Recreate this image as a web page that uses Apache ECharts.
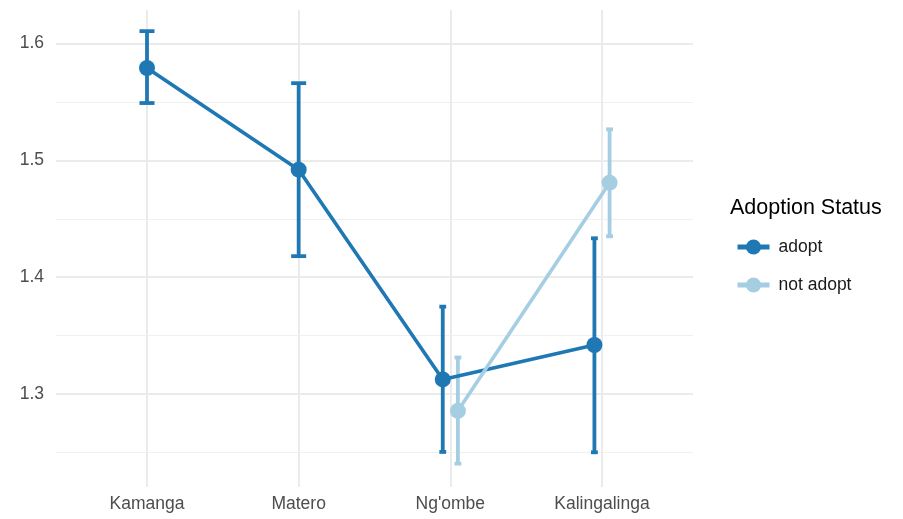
<!DOCTYPE html>
<html>
<head>
<meta charset="utf-8">
<script src="https://cdn.jsdelivr.net/npm/echarts@6/dist/echarts.min.js"></script>
<style>
  html, body { margin: 0; padding: 0; background: #ffffff; }
  #chart { width: 903px; height: 519px; }
</style>
</head>
<body>
<div id="chart"></div>
<script>
// Mean score by district and adoption status, with error bar limits
var categories = ["Kamanga", "Matero", "Ng'ombe", "Kalingalinga"];
var groups = ["adopt", "not adopt"];

var adoptMean = [1.579, 1.492, 1.3125, 1.342];
var adoptLow  = [1.549, 1.418, 1.2505, 1.2502];
var adoptHigh = [1.6105, 1.566, 1.3748, 1.4333];

var notAdoptMean = [null, null, 1.2857, 1.4809];
var notAdoptLow  = [null, null, 1.2405, 1.435];
var notAdoptHigh = [null, null, 1.3313, 1.5265];

var yMajorTicks = [1.3, 1.4, 1.5, 1.6];
var yMinorTicks = [1.25, 1.35, 1.45, 1.55];

var colors = { "adopt": "#1F78B4", "not adopt": "#A6CEE3" };
var dodge = 0.05;
var FONT = 'Liberation Sans, Arial, Helvetica, sans-serif';

var means = [adoptMean, notAdoptMean];
var lows = [adoptLow, notAdoptLow];
var highs = [adoptHigh, notAdoptHigh];

// how many groups are present at each category (dodging only when both are)
var present = categories.map(function (c, i) {
  return means.filter(function (m) { return m[i] != null; }).length;
});

function xPos(groupIdx, catIdx) {
  var base = catIdx + 1;
  if (present[catIdx] < 2) return base;
  return base + (groupIdx === 0 ? -dodge : dodge);
}

var lineSeries = [], barSeries = [];
groups.forEach(function (g, gi) {
  var pts = [], bars = [];
  categories.forEach(function (c, ci) {
    if (means[gi][ci] == null) return;
    var x = xPos(gi, ci);
    pts.push([x, means[gi][ci]]);
    bars.push([x, lows[gi][ci], highs[gi][ci], present[ci]]);
  });
  lineSeries.push({
    name: g,
    type: 'line',
    z: 3 + gi,
    data: pts,
    symbol: 'circle',
    symbolSize: 16,
    showSymbol: true,
    lineStyle: { color: colors[g], width: 3.6 },
    itemStyle: { color: colors[g] },
    emphasis: { disabled: true }
  });
  // error bars: vertical segment with a cap at each end
  barSeries.push({
    name: g,
    type: 'custom',
    z: 1,
    silent: true,
    data: bars,
    encode: { x: 0, y: [1, 2] },
    renderItem: function (params, api) {
      var x = api.value(0);
      var lo = api.coord([x, api.value(1)]);
      var hi = api.coord([x, api.value(2)]);
      var half = api.value(3) > 1 ? 3.4 : 7.5;
      var st = { stroke: colors[g], lineWidth: 3.8, fill: null };
      return {
        type: 'group',
        children: [
          { type: 'line', shape: { x1: lo[0], y1: lo[1], x2: hi[0], y2: hi[1] }, style: st },
          { type: 'line', shape: { x1: lo[0] - half, y1: lo[1], x2: lo[0] + half, y2: lo[1] }, style: st },
          { type: 'line', shape: { x1: hi[0] - half, y1: hi[1], x2: hi[0] + half, y2: hi[1] }, style: st }
        ]
      };
    }
  });
});

var chart = echarts.init(document.getElementById('chart'));
chart.setOption({
  animation: false,
  backgroundColor: '#ffffff',
  color: [colors['adopt'], colors['not adopt']],
  grid: { left: 56, right: 210, top: 10, bottom: 32, containLabel: false },
  title: {
    text: 'Adoption Status',
    left: 725,
    top: 192,
    textStyle: { fontFamily: FONT, fontSize: 21.5, fontWeight: 'normal', color: '#000000' }
  },
  legend: {
    data: groups,
    orient: 'vertical',
    left: 730,
    top: 233,
    itemWidth: 32,
    itemHeight: 19,
    itemGap: 20,
    selectedMode: false,
    lineStyle: { width: 5 },
    textStyle: { fontFamily: FONT, fontSize: 17.5, color: '#1a1a1a', padding: [0, 0, 0, 4] }
  },
  xAxis: {
    type: 'value',
    min: 0.4,
    max: 4.6,
    axisLine: { show: false },
    axisTick: { show: false, customValues: [1, 2, 3, 4] },
    splitLine: { show: true, lineStyle: { color: '#EBEBEB', width: 2 } },
    axisLabel: {
      customValues: [1, 2, 3, 4],
      formatter: function (v) { return categories[Math.round(v) - 1]; },
      fontFamily: FONT,
      fontSize: 17.5,
      color: '#4D4D4D',
      margin: 8
    }
  },
  yAxis: [{
    type: 'value',
    min: 1.2205,
    max: 1.6286,
    axisLine: { show: false },
    axisTick: { show: false, customValues: yMajorTicks },
    splitLine: { show: true, lineStyle: { color: '#EBEBEB', width: 2 } },
    axisLabel: {
      customValues: yMajorTicks,
      formatter: function (v) { return v.toFixed(1); },
      fontFamily: FONT,
      fontSize: 17.5,
      color: '#4D4D4D',
      margin: 12
    }
  }, {
    // minor horizontal gridlines
    type: 'value',
    min: 1.2205,
    max: 1.6286,
    position: 'left',
    axisLine: { show: false },
    axisTick: { show: false, customValues: yMinorTicks },
    axisLabel: { show: false, customValues: yMinorTicks },
    splitLine: { show: true, lineStyle: { color: '#F0F0F0', width: 1.2 } }
  }],
  series: lineSeries.concat(barSeries)
});
</script>
</body>
</html>
